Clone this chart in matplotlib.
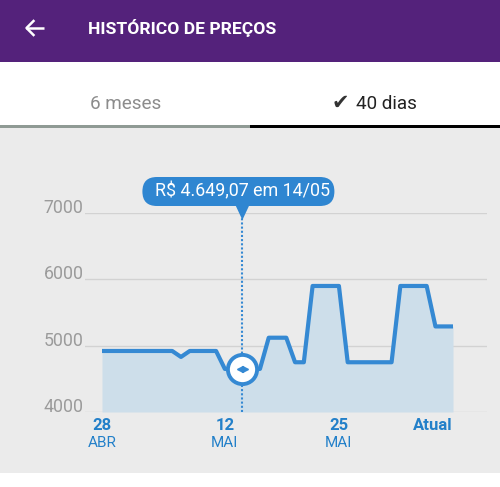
import matplotlib
matplotlib.use("Agg")
import matplotlib.pyplot as plt
from matplotlib.patches import Rectangle, FancyBboxPatch, Polygon
from matplotlib.transforms import blended_transform_factory, offset_copy

# price history, one point per day (day 0 = 28/04)
days = list(range(41))
prices = ([4920] * 9 + [4830] + [4920] * 4 + [4649.07] * 5 + [5120] * 3
          + [4750] * 2 + [5900] * 4 + [4750] * 6 + [5900] * 4 + [5290] * 3)

y_ticks = [4000, 5000, 6000, 7000]
x_tick_days = [0, 14, 27, 40]
x_tick_top = ["28", "12", "25", "Atual"]
x_tick_bottom = ["ABR", "MAI", "MAI", ""]

selected_day = 16
selected_price = 4649.07
tooltip_text = "R$ 4.649,07 em 14/05"

title = "HISTÓRICO DE PREÇOS"
tab_left = "6 meses"
tab_right = "40 dias"

FONT = ["Roboto", "DejaVu Sans"]
PURPLE = "#54227b"
BG = "#ebebeb"
LINE = "#3589d3"
FILL = "#cddeea"
LABEL_BLUE = "#2380c9"
GRID = "#d2d2d2"

W, H = 500, 487
fig = plt.figure(figsize=(W / 100, H / 100), dpi=100)

# screen chrome, drawn in pixel coordinates
ui = fig.add_axes([0, 0, 1, 1], zorder=0)
ui.set_xlim(0, W)
ui.set_ylim(H, 0)
ui.axis("off")
ui.add_patch(Rectangle((0, 0), W, 62, fc=PURPLE, ec="none"))
ui.add_patch(Rectangle((0, 62), W, 63, fc="white", ec="none"))
ui.add_patch(Rectangle((0, 127), W, 346, fc=BG, ec="none"))
ui.add_patch(Rectangle((0, 473), W, 14, fc="white", ec="none"))
ui.add_patch(Rectangle((0, 124.5), W / 2, 3, fc="#8f9a94", ec="none"))
ui.add_patch(Rectangle((W / 2, 124.5), W / 2, 3, fc="black", ec="none"))

ui.plot([26, 44], [28, 28], color="white", lw=1.8, solid_capstyle="butt")
ui.plot([33.5, 26.5, 33.5], [21, 28, 35], color="white", lw=1.8)
ui.text(88, 28, title, color="white", fontsize=12.6, fontweight="bold",
        family=FONT, ha="left", va="center")
ui.text(90, 104, tab_left, color="#8c8c8c", fontsize=13.6, family=FONT,
        ha="left", va="center")
ui.text(332, 103, "\u2714", color="#333333", fontsize=15, family=["DejaVu Sans"],
        ha="left", va="center")
ui.text(356, 104, tab_right, color="#222222", fontsize=13.6, family=FONT,
        ha="left", va="center")

# chart area
x0_px, x1_px = 85, 487
y_top_px, y_bot_px = 213, 412
day0_px, dayN_px = 102, 453
px_per_day = (dayN_px - day0_px) / (days[-1] - days[0])

ax = fig.add_axes([x0_px / W, 1 - y_bot_px / H, (x1_px - x0_px) / W,
                   (y_bot_px - y_top_px) / H], zorder=1)
ax.patch.set_alpha(0)
ax.set_xlim(days[0] - (day0_px - x0_px) / px_per_day,
            days[-1] + (x1_px - dayN_px) / px_per_day)
ax.set_ylim(y_ticks[0], y_ticks[-1])
for s in ax.spines.values():
    s.set_visible(False)
ax.set_xticks([])
ax.set_yticks([])
for v in y_ticks:
    ax.axhline(v, color=GRID, lw=1, zorder=0)
    ax.text(-0.004, v, str(v), transform=ax.get_yaxis_transform(),
            ha="right", va="baseline", color="#9b9b9b", fontsize=12.8,
            family=FONT)

ax.fill_between(days, prices, y_ticks[0], color=FILL, lw=0, zorder=1)
ax.plot(days, prices, color=LINE, lw=3, solid_joinstyle="round",
        solid_capstyle="butt", zorder=3)
ax.axvline(selected_day, color=LINE, lw=1.5, ls=(0, (1, 1)), zorder=2)

ax.plot(selected_day, selected_price, "o", ms=21, mfc="white", mec=LINE,
        mew=2.8, zorder=4)
ax.plot(selected_day, selected_price, marker="<", ms=5, color=LINE, zorder=5,
        transform=offset_copy(ax.transData, fig=fig, x=-2.8, y=0, units="dots"))
ax.plot(selected_day, selected_price, marker=">", ms=5, color=LINE, zorder=5,
        transform=offset_copy(ax.transData, fig=fig, x=2.8, y=0, units="dots"))

xy_px = blended_transform_factory(ax.transData, ui.transData)
for d, top, bottom in zip(x_tick_days, x_tick_top, x_tick_bottom):
    ha = "right" if top == "Atual" else "center"
    ax.text(d, 425, top, transform=xy_px, ha=ha, va="center", color=LABEL_BLUE,
            fontsize=12, fontweight="bold", family=FONT, clip_on=False)
    ax.text(d, 443, bottom, transform=xy_px, ha=ha, va="center",
            color=LABEL_BLUE, fontsize=11, family=FONT, clip_on=False)

# tooltip overlay
top = fig.add_axes([0, 0, 1, 1], zorder=2)
top.set_xlim(0, W)
top.set_ylim(H, 0)
top.axis("off")
cx = ax.transData.transform((selected_day, selected_price))[0]
top.add_patch(FancyBboxPatch((cx - 100, 177), 192, 29,
                             boxstyle="round,pad=0,rounding_size=14.5",
                             fc="#2f86d1", ec="none"))
top.add_patch(Polygon([(cx - 7, 205), (cx + 7, 205), (cx, 220)],
                      closed=True, fc="#2f86d1", ec="none"))
top.text(cx, 191.5, tooltip_text, color="white", fontsize=12.9, family=FONT,
         ha="center", va="center")

fig.savefig("out.png", dpi=100)
